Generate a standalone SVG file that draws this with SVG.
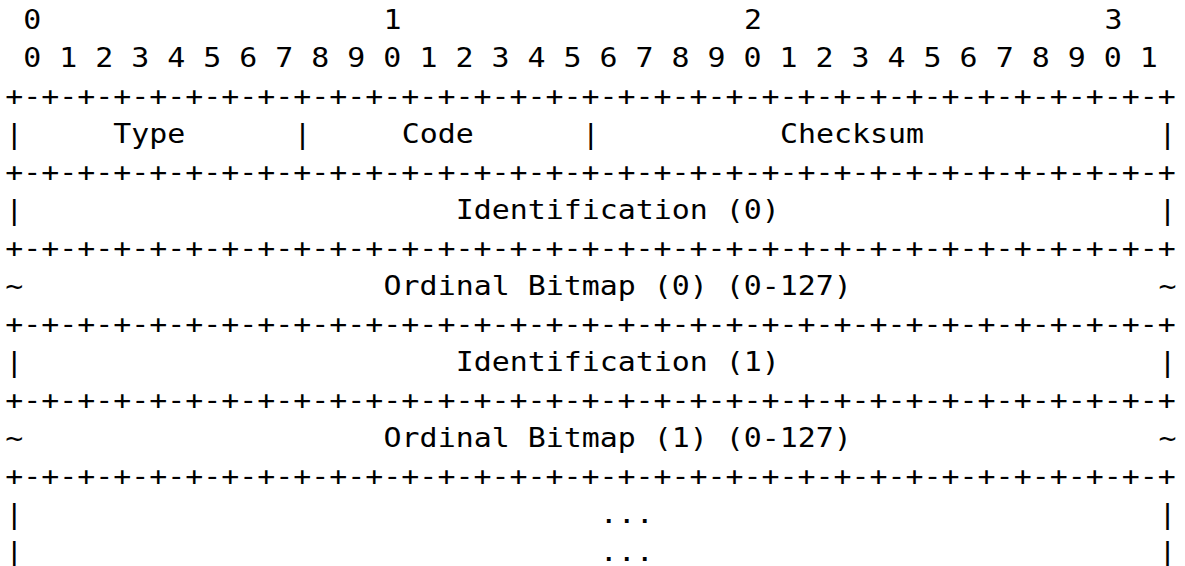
<svg xmlns="http://www.w3.org/2000/svg" width="1185" height="566" viewBox="0 0 1185 566">
<style>
text{font-family:"DejaVu Sans Mono","Liberation Mono",monospace;font-size:26px;fill:#000}
</style>
<rect width="1185" height="566" fill="#fff"/>
<g transform="scale(1.1512,1)">
<g id="bit-ruler">
<text x="20.17" y="29.5">0</text>
<text x="333.23" y="29.5">1</text>
<text x="646.3" y="29.5">2</text>
<text x="959.4" y="29.5">3</text>
<text x="20.17" y="67">0 1 2 3 4 5 6 7 8 9 0 1 2 3 4 5 6 7 8 9 0 1 2 3 4 5 6 7 8 9 0 1</text>
</g>
<g id="connectors">
<text x="4.52" y="105">+-+-+-+-+-+-+-+-+-+-+-+-+-+-+-+-+-+-+-+-+-+-+-+-+-+-+-+-+-+-+-+-+</text>
<text x="4.52" y="181">+-+-+-+-+-+-+-+-+-+-+-+-+-+-+-+-+-+-+-+-+-+-+-+-+-+-+-+-+-+-+-+-+</text>
<text x="4.52" y="257">+-+-+-+-+-+-+-+-+-+-+-+-+-+-+-+-+-+-+-+-+-+-+-+-+-+-+-+-+-+-+-+-+</text>
<text x="4.52" y="333">+-+-+-+-+-+-+-+-+-+-+-+-+-+-+-+-+-+-+-+-+-+-+-+-+-+-+-+-+-+-+-+-+</text>
<text x="4.52" y="409">+-+-+-+-+-+-+-+-+-+-+-+-+-+-+-+-+-+-+-+-+-+-+-+-+-+-+-+-+-+-+-+-+</text>
<text x="4.52" y="485">+-+-+-+-+-+-+-+-+-+-+-+-+-+-+-+-+-+-+-+-+-+-+-+-+-+-+-+-+-+-+-+-+</text>
</g>
<g id="row-type-code-checksum">
<text x="4.52" y="143">|</text>
<text x="98.44" y="143">Type</text>
<text x="254.97" y="143">|</text>
<text x="348.89" y="143">Code</text>
<text x="505.42" y="143">|</text>
<text x="677.6" y="143">Checksum</text>
<text x="1006.3" y="143">|</text>
</g>
<g id="row-identification-0">
<text x="4.52" y="219">|</text>
<text x="395.85" y="219">Identification (0)</text>
<text x="1006.3" y="219">|</text>
</g>
<g id="row-bitmap-0">
<text x="4.52" y="295">~</text>
<text x="333.23" y="295">Ordinal Bitmap (0) (0-127)</text>
<text x="1006.3" y="295">~</text>
</g>
<g id="row-identification-1">
<text x="4.52" y="371">|</text>
<text x="395.85" y="371">Identification (1)</text>
<text x="1006.3" y="371">|</text>
</g>
<g id="row-bitmap-1">
<text x="4.52" y="447">~</text>
<text x="333.23" y="447">Ordinal Bitmap (1) (0-127)</text>
<text x="1006.3" y="447">~</text>
</g>
<g id="row-ellipsis-1">
<text x="4.52" y="523">|</text>
<text x="521.07" y="523">...</text>
<text x="1006.3" y="523">|</text>
</g>
<g id="row-ellipsis-2">
<text x="4.52" y="561">|</text>
<text x="521.07" y="561">...</text>
<text x="1006.3" y="561">|</text>
</g>
</g>
</svg>
